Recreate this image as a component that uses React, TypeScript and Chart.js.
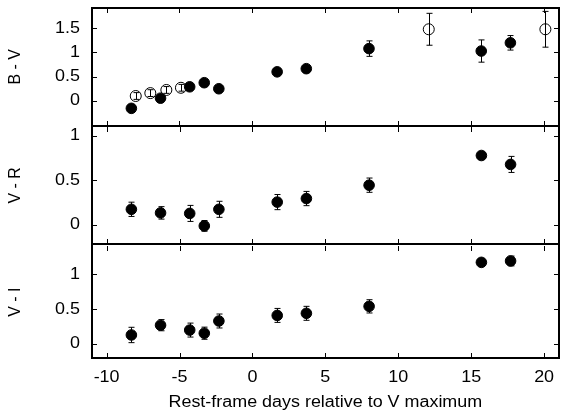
import React, { useEffect, useRef } from "react";
import { Chart, registerables } from "chart.js";
Chart.register(...registerables);

// ---- data ----
const days = [-8.3, -6.3, -4.3, -3.3, -2.3, 1.7, 3.7, 8.0, 15.7, 17.7];
const bvFilled = [-0.155, 0.055, 0.29, 0.375, 0.25, 0.6, 0.665, 1.08, 1.03, 1.2];
const bvFilledErr = [0.03, 0.03, 0.03, 0.03, 0.03, 0.04, 0.05, 0.16, 0.23, 0.15];
const bvOpenDays = [-8.0, -7.0, -5.9, -4.9, 12.1, 20.1];
const bvOpen = [0.1, 0.16, 0.225, 0.27, 1.48, 1.48];
const bvOpenErr = [0.07, 0.07, 0.07, 0.07, 0.33, 0.37];
const vr = [0.176, 0.136, 0.13, -0.01, 0.176, 0.257, 0.297, 0.447, 0.78, 0.68];
const vrErr = [0.08, 0.07, 0.09, 0.06, 0.09, 0.085, 0.08, 0.08, 0.02, 0.09];
const vi = [0.13, 0.27, 0.2, 0.155, 0.33, 0.41, 0.44, 0.54, 1.17, 1.19];
const viErr = [0.11, 0.08, 0.1, 0.087, 0.1, 0.1, 0.1, 0.095, 0.03, 0.07];
const xTicks = [-10, -5, 0, 5, 10, 15, 20];
const bvTicks = [0, 0.5, 1, 1.5];
const vrTicks = [0, 0.5, 1];
const viTicks = [0, 0.5, 1];
const xTitle = "Rest-frame days relative to V maximum";

const FONT = "'Liberation Sans', Arial, Helvetica, sans-serif";
const TEXT_STRETCH = 1.12;

type Series = { xs: number[]; ys: number[]; errs: number[]; open: boolean };
type PanelCfg = {
  label: string;
  min: number;
  max: number;
  ticks: number[];
  series: Series[];
  top: number;
  height: number;
  padTop: number;
  padBottom: number;
  showX: boolean;
  drawTop: boolean;
};

const panels: PanelCfg[] = [
  {
    label: "B - V", min: -0.51, max: 1.92, ticks: bvTicks,
    series: [
      { xs: days, ys: bvFilled, errs: bvFilledErr, open: false },
      { xs: bvOpenDays, ys: bvOpen, errs: bvOpenErr, open: true },
    ],
    top: 0, height: 132, padTop: 8, padBottom: 5, showX: false, drawTop: true,
  },
  {
    label: "V - R", min: -0.21, max: 1.1, ticks: vrTicks,
    series: [{ xs: days, ys: vr, errs: vrErr, open: false }],
    top: 120, height: 130, padTop: 7, padBottom: 5, showX: false, drawTop: false,
  },
  {
    label: "V - I", min: -0.2, max: 1.4, ticks: viTicks,
    series: [{ xs: days, ys: vi, errs: viErr, open: false }],
    top: 240, height: 177, padTop: 5, padBottom: 0, showX: true, drawTop: false,
  },
];

const framePlugin = {
  id: "frameAndErrors",
  afterDatasetsDraw(chart: any) {
    const { ctx, chartArea: a, scales } = chart;
    const x = scales.x, y = scales.y;
    const opts = chart.options.plugins.frameAndErrors;
    ctx.save();
    ctx.strokeStyle = "#000";
    // error bars
    chart.data.datasets.forEach((ds: any) => {
      const errs: number[] = ds.err;
      if (!errs) return;
      ds.data.forEach((p: any, j: number) => {
        const e = errs[j];
        const px = Math.round(x.getPixelForValue(p.x)) + 0.5;
        const y1 = y.getPixelForValue(p.y + e);
        const y2 = y.getPixelForValue(p.y - e);
        ctx.lineWidth = 1;
        ctx.beginPath();
        ctx.moveTo(px, y1); ctx.lineTo(px, y2);
        ctx.moveTo(px - 3, y1); ctx.lineTo(px + 3, y1);
        ctx.moveTo(px - 3, y2); ctx.lineTo(px + 3, y2);
        ctx.stroke();
      });
    });
    const L = Math.round(a.left), R = Math.round(a.right);
    const T = Math.round(a.top), B = Math.round(a.bottom);
    // inward ticks
    const tl = 5;
    ctx.lineWidth = 1;
    ctx.beginPath();
    xTicks.forEach((v) => {
      const px = Math.round(x.getPixelForValue(v)) + 0.5;
      ctx.moveTo(px, T); ctx.lineTo(px, T + tl);
      ctx.moveTo(px, B); ctx.lineTo(px, B - tl);
    });
    (opts.yTicks as number[]).forEach((v) => {
      const py = Math.round(y.getPixelForValue(v)) + 0.5;
      ctx.moveTo(L, py); ctx.lineTo(L + tl, py);
      ctx.moveTo(R, py); ctx.lineTo(R - tl, py);
    });
    ctx.stroke();
    // frame
    ctx.lineWidth = 2;
    ctx.lineCap = "square";
    ctx.beginPath();
    if (opts.drawTop) { ctx.moveTo(L, T); ctx.lineTo(R, T); }
    ctx.moveTo(L, T); ctx.lineTo(L, B);
    ctx.moveTo(R, T); ctx.lineTo(R, B);
    ctx.moveTo(L, B); ctx.lineTo(R, B);
    ctx.stroke();
    ctx.restore();
  },
};

function stretchText(ctx: CanvasRenderingContext2D) {
  const orig = ctx.fillText.bind(ctx);
  (ctx as any).fillText = (text: string, x: number, y: number, maxWidth?: number) => {
    const m = ctx.getTransform();
    if (Math.abs(m.b) > 1e-6 || Math.abs(m.c) > 1e-6) {
      if (maxWidth === undefined) orig(text, x, y); else orig(text, x, y, maxWidth);
      return;
    }
    ctx.save();
    ctx.translate(x, y);
    ctx.scale(TEXT_STRETCH, 1);
    orig(text, 0, 0);
    ctx.restore();
  };
}

function Panel({ cfg }: { cfg: PanelCfg }) {
  const ref = useRef<HTMLCanvasElement>(null);
  useEffect(() => {
    if (!ref.current) return;
    const c2d = ref.current.getContext("2d");
    if (c2d) stretchText(c2d);
    const datasets = cfg.series.map((s) => ({
      data: s.xs.map((xv, i) => ({ x: xv, y: s.ys[i] })),
      err: s.errs,
      pointRadius: s.open ? 5.5 : 5.3,
      pointBorderWidth: 1,
      pointBorderColor: "#000",
      pointBackgroundColor: s.open ? "rgba(255,255,255,0)" : "#000",
      showLine: false,
    }));
    const chart = new Chart(ref.current, {
      type: "scatter",
      data: { datasets: datasets as any },
      plugins: [framePlugin as any],
      options: {
        animation: false,
        responsive: false,
        devicePixelRatio: 1,
        layout: { padding: { left: 0, right: 2, top: cfg.padTop, bottom: cfg.padBottom } },
        plugins: {
          legend: { display: false },
          tooltip: { enabled: false },
          frameAndErrors: { yTicks: cfg.ticks, drawTop: cfg.drawTop },
        } as any,
        scales: {
          x: {
            type: "linear",
            min: -11,
            max: 21,
            display: cfg.showX,
            grid: { display: false, drawTicks: false },
            border: { display: false },
            afterBuildTicks: (s: any) => { s.ticks = xTicks.map((v) => ({ value: v })); },
            afterFit: (s: any) => {
              if (cfg.showX) s.height = 59;
              s.paddingLeft = 0; s.paddingRight = 0; s.paddingTop = 0; s.paddingBottom = 0;
            },
            ticks: {
              color: "#000", font: { family: FONT, size: 16 }, padding: 10, maxRotation: 0,
              callback: (v: any) => String(v),
            },
            title: {
              display: true,
              text: xTitle,
              color: "#000",
              font: { family: FONT, size: 16 },
              padding: { top: 0, bottom: 5 },
            },
          },
          y: {
            type: "linear",
            min: cfg.min,
            max: cfg.max,
            grid: { display: false, drawTicks: false },
            border: { display: false },
            afterBuildTicks: (s: any) => { s.ticks = cfg.ticks.map((v) => ({ value: v })); },
            afterFit: (s: any) => {
              s.width = 92;
              s.paddingLeft = 0; s.paddingRight = 0; s.paddingTop = 0; s.paddingBottom = 0;
            },
            ticks: {
              color: "#000", font: { family: FONT, size: 16 }, padding: 12,
              callback: (v: any) => String(v),
            },
            title: {
              display: true,
              text: cfg.label,
              color: "#000",
              font: { family: FONT, size: 16 },
              padding: { top: 6, bottom: 0 },
            },
          },
        },
      },
    });
    return () => chart.destroy();
  }, [cfg]);
  return (
    <canvas
      ref={ref}
      width={565}
      height={cfg.height}
      style={{ position: "absolute", left: 0, top: cfg.top, width: 565, height: cfg.height }}
    />
  );
}

export default function App() {
  return (
    <div style={{ position: "fixed", left: 0, top: 0, width: 565, height: 417, background: "#fff" }}>
      {panels.map((p, i) => (
        <Panel key={i} cfg={p} />
      ))}
    </div>
  );
}
